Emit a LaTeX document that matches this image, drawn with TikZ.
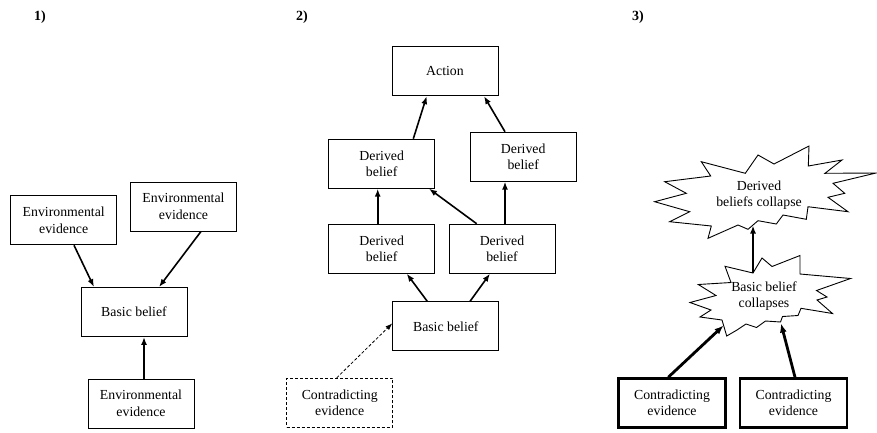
\documentclass[tikz,border=0pt]{standalone}
\usepackage{fontspec}
\setmainfont{Liberation Serif}
\usetikzlibrary{arrows.meta}
\begin{document}
\begin{tikzpicture}[x=1pt,y=-1pt,
  txt/.style={font=\fontsize{13.8}{16.5}\selectfont, align=center},
  box/.style={txt, draw, line width=0.9pt, minimum width=106pt, minimum height=49pt, inner sep=0pt},
  dashbox/.style={box, dash pattern=on 3pt off 2pt},
  heavybox/.style={box, line width=2.6pt, minimum width=107pt},
  arr/.style={-{Latex[length=8pt,width=6pt]}, line width=1.6pt},
  heavyarr/.style={-{Latex[length=9pt,width=7pt]}, line width=2.8pt},
  dasharr/.style={-{Latex[length=7pt,width=5pt]}, line width=0.8pt, dash pattern=on 3pt off 2pt},
  burst/.style={draw, line width=0.9pt, fill=white, line join=miter},
  panel/.style={font=\fontsize{14}{16}\selectfont\bfseries}
]
\useasboundingbox (0,0) rectangle (877,432);

% panel labels
\node[panel] (p1) at (40,17) {1)};
\node[panel] (p2) at (302,17) {2)};
\node[panel] (p3) at (638,17) {3)};

% ---- 1) basic belief supported by evidence
\node[box] (e1) at (63.7,220.3) {Environmental\\evidence};
\node[box] (e2) at (183.5,206.5) {Environmental\\evidence};
\node[box] (bb1) at (134,312) {Basic belief};
\node[box] (e3) at (141,403.5) {Environmental\\evidence};
\draw[arr] ([xshift=10.3pt]e1.south) -- ([xshift=-40pt]bb1.north);
\draw[arr] ([xshift=17.5pt]e2.south) -- ([xshift=25pt]bb1.north);
\draw[arr] ([xshift=3pt]e3.north) -- ([xshift=10pt]bb1.south);

% ---- 2) beliefs derived from the basic belief
\node[box] (act) at (445,71.2) {Action};
\node[box] (d1) at (381.7,163.7) {Derived\\belief};
\node[box] (d2) at (523.2,156.7) {Derived\\belief};
\node[box] (d3) at (381.7,248.7) {Derived\\belief};
\node[box] (d4) at (502,248.7) {Derived\\belief};
\node[box] (bb2) at (445.8,326.3) {Basic belief};
\node[dashbox] (ce) at (339.7,402.8) {Contradicting\\evidence};
\draw[arr] ([xshift=-18.5pt]bb2.north) -- ([xshift=25pt]d3.south);
\draw[arr] ([xshift=24.2pt]bb2.north) -- ([xshift=-12pt]d4.south);
\draw[arr] ([xshift=-4pt]d3.north) -- ([xshift=-4pt]d1.south);
\draw[arr] ([xshift=-25.3pt]d4.north) -- ([xshift=47.3pt]d1.south);
\draw[arr] ([xshift=3pt]d4.north) -- ([xshift=-18.2pt]d2.south);
\draw[arr] ([xshift=31.6pt]d1.north) -- ([xshift=-18.3pt]act.south);
\draw[arr] ([xshift=-18.2pt]d2.north) -- ([xshift=39pt]act.south);
\draw[dasharr] ([xshift=-3pt]ce.north) -- ([yshift=3pt]bb2.west);

% ---- 3) collapse
\draw[burst] (701.3,161.7) -- (745.3,173.3) -- (758,155) -- (774,164) -- (809,146)
  -- (808.3,166) -- (842,160) -- (825,173.3) -- (876,173) -- (833,183.3)
  -- (844.7,193.3) -- (828,197.3) -- (848,211.7) -- (808,206.7) -- (806.3,219.3)
  -- (783,215) -- (776.3,224) -- (758,220.7) -- (748,229.3) -- (738,225)
  -- (708,238.3) -- (711.3,226) -- (669.7,221.7) -- (689.7,211.7) -- (654.7,201.7)
  -- (686.3,193.3) -- (664.7,181.7) -- (710.7,176) -- cycle;
\draw[burst] (753,273) -- (762,258) -- (772,266.5) -- (800,255.5) -- (800,274)
  -- (850.5,278.5) -- (816.5,290.5) -- (827,297) -- (817,300) -- (832.5,313.5)
  -- (801,308.3) -- (798,315.5) -- (782.5,316.5) -- (780.5,322) -- (765.5,321)
  -- (756.5,327.5) -- (746,324) -- (737,330) -- (726.7,336) -- (722,320)
  -- (700,317) -- (711,310) -- (690,302.5) -- (716,295.5) -- (698.3,284.5)
  -- (731,282.5) -- (725,266.3) -- cycle;
\coordinate (dcB) at (753,225.5);
\coordinate (bcT) at (753,273);
\coordinate (bcL) at (723.5,325.5);
\coordinate (bcR) at (781,323.5);
\node[txt] (dc) at (759,195) {Derived\\beliefs collapse};
\node[txt] (bc) at (764,296) {Basic belief\\collapses};
\node[heavybox] (c1) at (672,403) {Contradicting\\evidence};
\node[heavybox] (c2) at (793.5,403) {Contradicting\\evidence};
\draw[arr] (bcT) -- (dcB);
\draw[heavyarr] ([xshift=-3.7pt]c1.north) -- (bcL);
\draw[heavyarr] ([xshift=1.5pt]c2.north) -- (bcR);
\end{tikzpicture}
\end{document}
